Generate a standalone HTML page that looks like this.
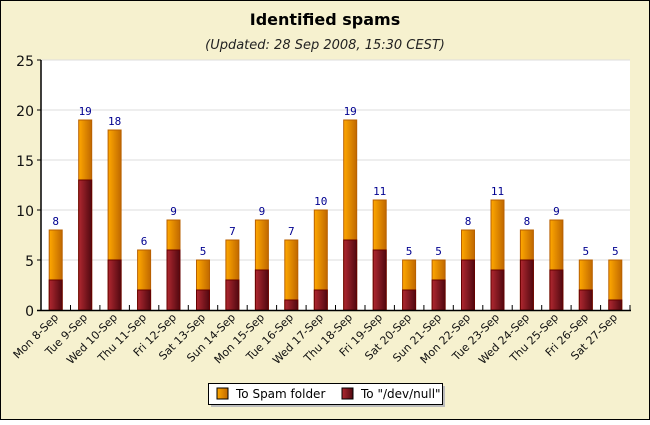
<!DOCTYPE html><html><head><style>body{margin:0}</style></head><body>
<svg width="650" height="420" xmlns="http://www.w3.org/2000/svg" font-family="DejaVu Sans, sans-serif">
<defs>
<linearGradient id="o" x1="0" x2="1"><stop offset="0" stop-color="#ffa800"/><stop offset="1" stop-color="#c06800"/></linearGradient>
<linearGradient id="r" x1="0" x2="1"><stop offset="0" stop-color="#b02830"/><stop offset="1" stop-color="#500810"/></linearGradient>
</defs>
<rect x="0.5" y="0.5" width="649" height="419" fill="#f6f1cf" stroke="#000"/>
<text x="325" y="25" text-anchor="middle" font-size="16" font-weight="bold">Identified spams</text>
<text x="325" y="49" text-anchor="middle" font-size="13" font-style="italic" fill="#222">(Updated: 28 Sep 2008, 15:30 CEST)</text>
<rect x="41" y="60" width="589" height="250" fill="#fff"/>
<g stroke="#ddd"><line x1="41" x2="630" y1="60" y2="60"/><line x1="41" x2="630" y1="110" y2="110"/><line x1="41" x2="630" y1="160" y2="160"/><line x1="41" x2="630" y1="210" y2="210"/><line x1="41" x2="630" y1="260" y2="260"/></g>
<g font-size="14" text-anchor="end" fill="#111"><text x="34" y="66">25</text><text x="34" y="116">20</text><text x="34" y="166">15</text><text x="34" y="216">10</text><text x="34" y="266">5</text><text x="34" y="316">0</text></g>
<g stroke-width="1">
<g fill="url(#o)" stroke="#b86000">
<rect x="49.2" y="230" width="13" height="80"/>
<rect x="78.7" y="120" width="13" height="190"/>
<rect x="108.1" y="130" width="13" height="180"/>
<rect x="137.6" y="250" width="13" height="60"/>
<rect x="167" y="220" width="13" height="90"/>
<rect x="196.5" y="260" width="13" height="50"/>
<rect x="225.9" y="240" width="13" height="70"/>
<rect x="255.4" y="220" width="13" height="90"/>
<rect x="284.8" y="240" width="13" height="70"/>
<rect x="314.3" y="210" width="13" height="100"/>
<rect x="343.7" y="120" width="13" height="190"/>
<rect x="373.2" y="200" width="13" height="110"/>
<rect x="402.6" y="260" width="13" height="50"/>
<rect x="432.1" y="260" width="13" height="50"/>
<rect x="461.5" y="230" width="13" height="80"/>
<rect x="491" y="200" width="13" height="110"/>
<rect x="520.4" y="230" width="13" height="80"/>
<rect x="549.9" y="220" width="13" height="90"/>
<rect x="579.3" y="260" width="13" height="50"/>
<rect x="608.8" y="260" width="13" height="50"/>
</g>
<g fill="url(#r)" stroke="#600">
<rect x="49.2" y="280" width="13" height="30"/>
<rect x="78.7" y="180" width="13" height="130"/>
<rect x="108.1" y="260" width="13" height="50"/>
<rect x="137.6" y="290" width="13" height="20"/>
<rect x="167" y="250" width="13" height="60"/>
<rect x="196.5" y="290" width="13" height="20"/>
<rect x="225.9" y="280" width="13" height="30"/>
<rect x="255.4" y="270" width="13" height="40"/>
<rect x="284.8" y="300" width="13" height="10"/>
<rect x="314.3" y="290" width="13" height="20"/>
<rect x="343.7" y="240" width="13" height="70"/>
<rect x="373.2" y="250" width="13" height="60"/>
<rect x="402.6" y="290" width="13" height="20"/>
<rect x="432.1" y="280" width="13" height="30"/>
<rect x="461.5" y="260" width="13" height="50"/>
<rect x="491" y="270" width="13" height="40"/>
<rect x="520.4" y="260" width="13" height="50"/>
<rect x="549.9" y="270" width="13" height="40"/>
<rect x="579.3" y="290" width="13" height="20"/>
<rect x="608.8" y="300" width="13" height="10"/>
</g>
</g>
<g font-size="11" fill="#000090" text-anchor="middle" font-family="DejaVu Sans Mono, monospace">
<text x="55.7" y="225">8</text><text x="85.2" y="115">19</text><text x="114.6" y="125">18</text><text x="144.1" y="245">6</text><text x="173.5" y="215">9</text><text x="203" y="255">5</text><text x="232.4" y="235">7</text><text x="261.9" y="215">9</text><text x="291.3" y="235">7</text><text x="320.8" y="205">10</text><text x="350.2" y="115">19</text><text x="379.7" y="195">11</text><text x="409.1" y="255">5</text><text x="438.6" y="255">5</text><text x="468" y="225">8</text><text x="497.5" y="195">11</text><text x="526.9" y="225">8</text><text x="556.4" y="215">9</text><text x="585.8" y="255">5</text><text x="615.3" y="255">5</text>
</g>
<line x1="41" y1="60" x2="41" y2="311" stroke="#000" stroke-width="1.5"/>
<line x1="37" y1="310.5" x2="631" y2="310.5" stroke="#000" stroke-width="1.5"/>
<g stroke="#000"><line x1="37" x2="41" y1="60" y2="60"/><line x1="37" x2="41" y1="110" y2="110"/><line x1="37" x2="41" y1="160" y2="160"/><line x1="37" x2="41" y1="210" y2="210"/><line x1="37" x2="41" y1="260" y2="260"/>
<line x1="70.5" x2="70.5" y1="305" y2="310"/><line x1="99.9" x2="99.9" y1="305" y2="310"/><line x1="129.4" x2="129.4" y1="305" y2="310"/><line x1="158.8" x2="158.8" y1="305" y2="310"/><line x1="188.3" x2="188.3" y1="305" y2="310"/><line x1="217.7" x2="217.7" y1="305" y2="310"/><line x1="247.2" x2="247.2" y1="305" y2="310"/><line x1="276.6" x2="276.6" y1="305" y2="310"/><line x1="306.1" x2="306.1" y1="305" y2="310"/><line x1="335.5" x2="335.5" y1="305" y2="310"/><line x1="365" x2="365" y1="305" y2="310"/><line x1="394.4" x2="394.4" y1="305" y2="310"/><line x1="423.9" x2="423.9" y1="305" y2="310"/><line x1="453.3" x2="453.3" y1="305" y2="310"/><line x1="482.8" x2="482.8" y1="305" y2="310"/><line x1="512.2" x2="512.2" y1="305" y2="310"/><line x1="541.7" x2="541.7" y1="305" y2="310"/><line x1="571.1" x2="571.1" y1="305" y2="310"/><line x1="600.6" x2="600.6" y1="305" y2="310"/><line x1="630" x2="630" y1="305" y2="310"/>
</g>
<g font-size="11" fill="#111" text-anchor="end">
<text transform="translate(59,318) rotate(-45)">Mon 8-Sep</text>
<text transform="translate(88,318) rotate(-45)">Tue 9-Sep</text>
<text transform="translate(118,318) rotate(-45)">Wed 10-Sep</text>
<text transform="translate(147,318) rotate(-45)">Thu 11-Sep</text>
<text transform="translate(177,318) rotate(-45)">Fri 12-Sep</text>
<text transform="translate(206,318) rotate(-45)">Sat 13-Sep</text>
<text transform="translate(236,318) rotate(-45)">Sun 14-Sep</text>
<text transform="translate(265,318) rotate(-45)">Mon 15-Sep</text>
<text transform="translate(294,318) rotate(-45)">Tue 16-Sep</text>
<text transform="translate(324,318) rotate(-45)">Wed 17-Sep</text>
<text transform="translate(353,318) rotate(-45)">Thu 18-Sep</text>
<text transform="translate(383,318) rotate(-45)">Fri 19-Sep</text>
<text transform="translate(412,318) rotate(-45)">Sat 20-Sep</text>
<text transform="translate(442,318) rotate(-45)">Sun 21-Sep</text>
<text transform="translate(471,318) rotate(-45)">Mon 22-Sep</text>
<text transform="translate(500,318) rotate(-45)">Tue 23-Sep</text>
<text transform="translate(530,318) rotate(-45)">Wed 24-Sep</text>
<text transform="translate(559,318) rotate(-45)">Thu 25-Sep</text>
<text transform="translate(589,318) rotate(-45)">Fri 26-Sep</text>
<text transform="translate(618,318) rotate(-45)">Sat 27-Sep</text>
</g>
<rect x="211" y="386" width="234" height="21" fill="#bbb"/>
<rect x="208.5" y="383.5" width="234" height="21" fill="#fff" stroke="#000"/>
<rect x="217" y="388" width="11" height="11" fill="url(#o)" stroke="#000"/>
<text x="236" y="398" font-size="12">To Spam folder</text>
<rect x="342" y="388" width="11" height="11" fill="url(#r)" stroke="#000"/>
<text x="361" y="398" font-size="12">To "/dev/null"</text>
</svg></body></html>
